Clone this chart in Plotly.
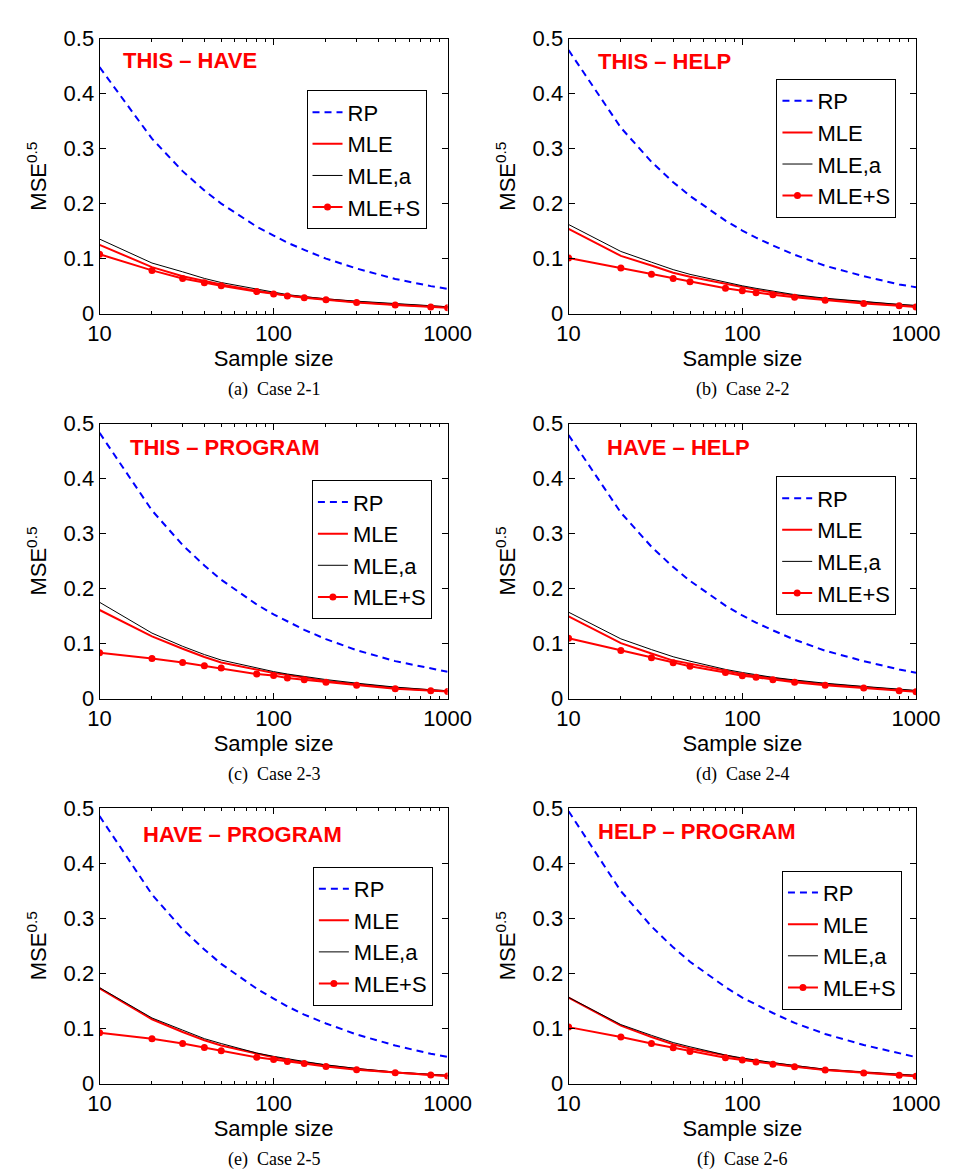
import plotly.graph_objects as go

# ---------------- data ----------------
sample_sizes = [10, 20, 30, 40, 50, 80, 100, 120, 150, 200, 300, 500, 800, 1000]

panel_titles = ["THIS – HAVE", "THIS – HELP", "THIS – PROGRAM",
                "HAVE – HELP", "HAVE – PROGRAM", "HELP – PROGRAM"]
captions = ["(a)  Case 2-1", "(b)  Case 2-2", "(c)  Case 2-3",
            "(d)  Case 2-4", "(e)  Case 2-5", "(f)  Case 2-6"]
series_names = ["RP", "MLE", "MLE,a", "MLE+S"]

rp_1 = [0.448, 0.318, 0.259, 0.224, 0.200, 0.158, 0.142, 0.129, 0.116, 0.100, 0.082, 0.063, 0.050, 0.045]
mle_1 = [0.125, 0.0845, 0.068, 0.060, 0.0530, 0.0415, 0.0365, 0.033, 0.0298, 0.0258, 0.021, 0.0165, 0.013, 0.0115]
mlea_1 = [0.1355, 0.092, 0.076, 0.064, 0.0565, 0.0446, 0.0387, 0.0345, 0.031, 0.0268, 0.0226, 0.0179, 0.0143, 0.0125]
mles_1 = [0.108, 0.0786, 0.064, 0.056, 0.0506, 0.040, 0.0357, 0.032, 0.029, 0.025, 0.020, 0.0155, 0.012, 0.0107]

rp_2 = [0.479, 0.338, 0.276, 0.239, 0.214, 0.169, 0.151, 0.138, 0.124, 0.107, 0.087, 0.068, 0.053, 0.048]
mle_2 = [0.154, 0.105, 0.0875, 0.0744, 0.067, 0.0536, 0.0476, 0.0434, 0.0385, 0.0327, 0.026, 0.020, 0.0155, 0.0135]
mlea_2 = [0.162, 0.113, 0.0935, 0.080, 0.0714, 0.0565, 0.0506, 0.046, 0.0405, 0.0345, 0.028, 0.0214, 0.0167, 0.015]
mles_2 = [0.101, 0.083, 0.0714, 0.0637, 0.058, 0.046, 0.0417, 0.038, 0.0345, 0.0298, 0.0244, 0.0185, 0.0143, 0.012]

rp_3 = [0.483, 0.342, 0.279, 0.242, 0.216, 0.171, 0.153, 0.140, 0.125, 0.108, 0.088, 0.068, 0.054, 0.0486]
mle_3 = [0.161, 0.113, 0.0905, 0.0756, 0.0655, 0.052, 0.0464, 0.043, 0.038, 0.032, 0.026, 0.019, 0.015, 0.0135]
mlea_3 = [0.175, 0.119, 0.095, 0.080, 0.070, 0.0554, 0.049, 0.0446, 0.040, 0.0345, 0.028, 0.0208, 0.016, 0.0143]
mles_3 = [0.0833, 0.073, 0.0655, 0.0595, 0.0554, 0.0446, 0.0417, 0.0375, 0.034, 0.0298, 0.0244, 0.0179, 0.0143, 0.013]

rp_4 = [0.479, 0.338, 0.276, 0.239, 0.214, 0.169, 0.151, 0.138, 0.124, 0.107, 0.087, 0.068, 0.053, 0.047]
mle_4 = [0.1495, 0.1008, 0.082, 0.069, 0.0635, 0.050, 0.0445, 0.041, 0.0365, 0.032, 0.026, 0.0205, 0.0155, 0.0135]
mlea_4 = [0.157, 0.1085, 0.089, 0.076, 0.068, 0.053, 0.0474, 0.0433, 0.0385, 0.0338, 0.0279, 0.022, 0.0166, 0.0148]
mles_4 = [0.1097, 0.0872, 0.074, 0.065, 0.0587, 0.0474, 0.0415, 0.0385, 0.0344, 0.0297, 0.0243, 0.019, 0.0142, 0.0125]

rp_5 = [0.485, 0.343, 0.280, 0.243, 0.217, 0.172, 0.154, 0.140, 0.125, 0.109, 0.089, 0.069, 0.054, 0.0485]
mle_5 = [0.1726, 0.1167, 0.0935, 0.0786, 0.069, 0.0536, 0.0476, 0.043, 0.0385, 0.0328, 0.0265, 0.0202, 0.016, 0.0143]
mlea_5 = [0.174, 0.119, 0.097, 0.0815, 0.0726, 0.0554, 0.0494, 0.0446, 0.040, 0.034, 0.0274, 0.0208, 0.0167, 0.0149]
mles_5 = [0.0923, 0.0815, 0.0726, 0.0655, 0.0595, 0.0476, 0.0435, 0.040, 0.0363, 0.031, 0.025, 0.0196, 0.0155, 0.0137]

rp_6 = [0.494, 0.349, 0.285, 0.247, 0.221, 0.175, 0.156, 0.143, 0.128, 0.110, 0.090, 0.070, 0.055, 0.048]
mle_6 = [0.156, 0.105, 0.0845, 0.0714, 0.0637, 0.050, 0.0448, 0.041, 0.0368, 0.0318, 0.0253, 0.0200, 0.0155, 0.014]
mlea_6 = [0.1565, 0.107, 0.0875, 0.0744, 0.0667, 0.0518, 0.0464, 0.0423, 0.038, 0.0327, 0.026, 0.0208, 0.0161, 0.0149]
mles_6 = [0.1024, 0.0845, 0.0726, 0.0649, 0.0583, 0.047, 0.0429, 0.0393, 0.0351, 0.0304, 0.0244, 0.019, 0.0149, 0.0131]

panels = [
    (rp_1, mle_1, mlea_1, mles_1),
    (rp_2, mle_2, mlea_2, mles_2),
    (rp_3, mle_3, mlea_3, mles_3),
    (rp_4, mle_4, mlea_4, mles_4),
    (rp_5, mle_5, mlea_5, mles_5),
    (rp_6, mle_6, mlea_6, mles_6),
]

# ---------------- layout geometry (pixels) ----------------
W, H = 958, 1175
col_x = [(82.7, 444.3), (570.0, 931.0)]
row_y = [(19.0, 300.0), (412.3, 693.3), (805.0, 1086.7)]
legend_px = [(297.7, 72.0), (786.0, 60.3), (303.3, 470.3),
             (785.7, 466.3), (304.3, 865.3), (791.7, 869.3)]
title_px = [(105, 41.7), (599, 42.7), (112.7, 436.7),
            (607.7, 437.3), (126, 832.3), (599, 829)]

SANS = "Liberation Sans, Arial, Helvetica, sans-serif"
SERIF = "Liberation Serif, Times New Roman, serif"

fig = go.Figure()
layout = dict(
    width=W, height=H,
    margin=dict(l=0, r=0, t=0, b=0),
    paper_bgcolor="white", plot_bgcolor="white",
    showlegend=True,
    font=dict(family=SANS, size=22, color="black"),
)
annotations = []

minor_vals = [20, 30, 40, 50, 60, 70, 80, 90, 200, 300, 400, 500, 600, 700, 800, 900]

for i, (rp, mle, mlea, mles) in enumerate(panels):
    r, c = divmod(i, 2)
    x0, x1 = col_x[c]
    ytop, ybot = row_y[r]
    sfx = "" if i == 0 else str(i + 1)
    xa, ya = "x" + sfx, "y" + sfx
    lg = "legend" + sfx

    common = dict(x=sample_sizes, xaxis=xa, yaxis=ya, legend=lg, mode="lines")
    fig.add_trace(go.Scatter(y=rp, name=series_names[0],
                             line=dict(color="#0000FF", width=2, dash="7px,5px"), **common))
    fig.add_trace(go.Scatter(y=mle, name=series_names[1],
                             line=dict(color="#FF0000", width=2), **common))
    fig.add_trace(go.Scatter(y=mlea, name=series_names[2],
                             line=dict(color="black", width=1), **common))
    c2 = dict(common)
    c2["mode"] = "lines+markers"
    fig.add_trace(go.Scatter(y=mles, name=series_names[3],
                             line=dict(color="#FF0000", width=2),
                             marker=dict(color="#FF0000", size=7, symbol="circle"), **c2))

    layout["xaxis" + sfx] = dict(
        type="log", range=[1, 3], domain=[x0 / W, x1 / W], anchor=ya,
        tickvals=[10, 100, 1000], ticktext=["10", "100", "1000"],
        ticks="inside", ticklen=6, tickcolor="black", tickwidth=1,
        minor=dict(tickvals=minor_vals, ticks="inside", ticklen=3,
                   tickcolor="black", showgrid=False),
        showline=True, linecolor="black", linewidth=1, mirror="allticks",
        showgrid=False, zeroline=False,
        tickfont=dict(family=SANS, size=22, color="black"),
        title=dict(text="Sample size", font=dict(family=SANS, size=22, color="black"),
                   standoff=0),
    )
    layout["yaxis" + sfx] = dict(
        range=[0, 0.5], domain=[1 - ybot / H, 1 - ytop / H], anchor=xa,
        tickvals=[0, 0.1, 0.2, 0.3, 0.4, 0.5],
        ticktext=["0", "0.1", "0.2", "0.3", "0.4", "0.5"],
        ticks="inside", ticklen=6, tickcolor="black", tickwidth=1,
        showline=True, linecolor="black", linewidth=1, mirror="allticks",
        showgrid=False, zeroline=False,
        tickfont=dict(family=SANS, size=22, color="black"),
        title=dict(text="MSE<sup>0.5</sup>", font=dict(family=SANS, size=22, color="black"),
                   standoff=10),
    )
    lx, ly = legend_px[i]
    layout[lg] = dict(
        x=lx / W, y=1 - ly / H, xanchor="left", yanchor="top",
        xref="paper", yref="paper",
        bgcolor="white", bordercolor="black", borderwidth=1,
        font=dict(family=SANS, size=22, color="black"),
        itemwidth=30, tracegroupgap=0,
    )
    tx, ty = title_px[i]
    annotations.append(dict(
        text="<b>" + panel_titles[i] + "</b>", x=tx / W, y=1 - ty / H,
        xref="paper", yref="paper", xanchor="left", yanchor="middle",
        showarrow=False, font=dict(family=SANS, size=22, color="#FF0000"),
    ))
    annotations.append(dict(
        text=captions[i], x=(x0 + x1) / 2 / W, y=1 - (ybot + 78) / H,
        xref="paper", yref="paper", xanchor="center", yanchor="middle",
        showarrow=False, font=dict(family=SERIF, size=18, color="black"),
    ))

layout["annotations"] = annotations
fig.update_layout(**layout)
fig.write_html("out.html")
